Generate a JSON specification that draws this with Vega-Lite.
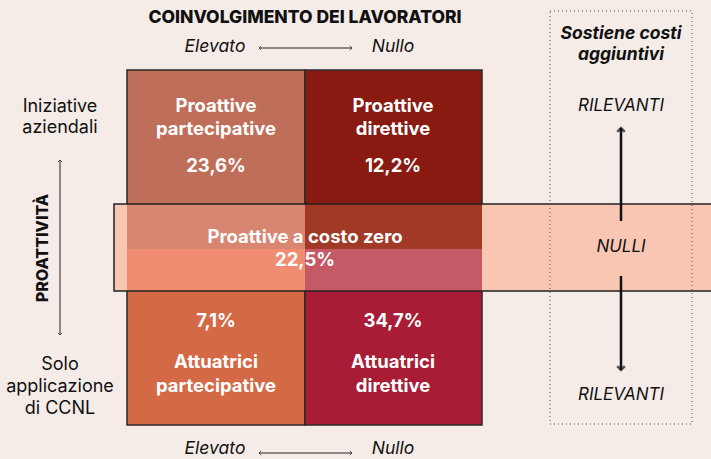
{
  "$schema": "https://vega.github.io/schema/vega-lite/v6.json",
  "width": 711,
  "height": 459,
  "autosize": {"type": "fit", "contains": "padding"},
  "padding": 0,
  "background": "#f5ece8",
  "config": {"view": {"stroke": null}, "text": {"font": "Inter"}},
  "datasets": {
    "quadranti": [
      {"x": 127, "x2": 305, "y": 70, "y2": 249, "zona": "Proattive partecipative"},
      {"x": 305, "x2": 482, "y": 70, "y2": 249, "zona": "Proattive direttive"},
      {"x": 127, "x2": 305, "y": 249, "y2": 425, "zona": "Attuatrici partecipative"},
      {"x": 305, "x2": 482, "y": 249, "y2": 425, "zona": "Attuatrici direttive"}
    ],
    "fascia": [
      {"x": 114, "x2": 127, "y": 204, "y2": 291, "zona": "Costo zero"},
      {"x": 482, "x2": 711, "y": 204, "y2": 291, "zona": "Costo zero"},
      {"x": 127, "x2": 305, "y": 204, "y2": 249, "zona": "Costo zero / Proattive partecipative"},
      {"x": 305, "x2": 482, "y": 204, "y2": 249, "zona": "Costo zero / Proattive direttive"},
      {"x": 127, "x2": 305, "y": 249, "y2": 291, "zona": "Costo zero / Attuatrici partecipative"},
      {"x": 305, "x2": 482, "y": 249, "y2": 291, "zona": "Costo zero / Attuatrici direttive"}
    ],
    "contorno": [{"x": 114, "x2": 720, "y": 204, "y2": 291}],
    "riquadro": [{"x": 550, "x2": 692, "y": 11, "y2": 424}],
    "frecce_sottili": [
      {"x": 60, "x2": 60, "y": 160, "y2": 335},
      {"x": 259, "x2": 352, "y": 48, "y2": 48},
      {"x": 259, "x2": 352, "y": 453, "y2": 453}
    ],
    "frecce_spesse": [
      {"x": 621, "x2": 621, "y": 128, "y2": 221},
      {"x": 621, "x2": 621, "y": 276, "y2": 370}
    ],
    "punte_sottili": [
      {"x": 60, "y": 160, "dir": "su"},
      {"x": 60, "y": 335, "dir": "giu"},
      {"x": 259, "y": 48, "dir": "sx"},
      {"x": 352, "y": 48, "dir": "dx"},
      {"x": 259, "y": 453, "dir": "sx"},
      {"x": 352, "y": 453, "dir": "dx"}
    ],
    "punte_spesse": [
      {"x": 621, "y": 128, "dir": "su"},
      {"x": 621, "y": 370, "dir": "giu"}
    ],
    "testi": [
      {"testo": "COINVOLGIMENTO DEI LAVORATORI", "x": 305, "y": 18, "tipo": "titolo"},
      {"testo": "Elevato", "x": 215, "y": 47, "tipo": "asse"},
      {"testo": "Nullo", "x": 393, "y": 47, "tipo": "asse"},
      {"testo": "Elevato", "x": 215, "y": 449, "tipo": "asse"},
      {"testo": "Nullo", "x": 393, "y": 449, "tipo": "asse"},
      {"testo": "Iniziative", "x": 60, "y": 107, "tipo": "lato"},
      {"testo": "aziendali", "x": 60, "y": 128, "tipo": "lato"},
      {"testo": "Solo", "x": 60, "y": 365, "tipo": "lato"},
      {"testo": "applicazione", "x": 60, "y": 387, "tipo": "lato"},
      {"testo": "di CCNL", "x": 60, "y": 409, "tipo": "lato"},
      {"testo": "Proattive", "x": 216, "y": 106, "tipo": "cella"},
      {"testo": "partecipative", "x": 216, "y": 129, "tipo": "cella"},
      {"testo": "Proattive", "x": 393, "y": 106, "tipo": "cella"},
      {"testo": "direttive", "x": 393, "y": 129, "tipo": "cella"},
      {"testo": "Proattive a costo zero", "x": 305, "y": 237, "tipo": "cella"},
      {"testo": "Attuatrici", "x": 216, "y": 362, "tipo": "cella"},
      {"testo": "partecipative", "x": 216, "y": 386, "tipo": "cella"},
      {"testo": "Attuatrici", "x": 393, "y": 362, "tipo": "cella"},
      {"testo": "direttive", "x": 393, "y": 386, "tipo": "cella"},
      {"testo": "23,6%", "x": 216, "y": 166, "tipo": "perc"},
      {"testo": "12,2%", "x": 393, "y": 166, "tipo": "perc"},
      {"testo": "22,5%", "x": 305, "y": 260, "tipo": "perc"},
      {"testo": "7,1%", "x": 216, "y": 321, "tipo": "perc"},
      {"testo": "34,7%", "x": 393, "y": 321, "tipo": "perc"},
      {"testo": "Sostiene costi", "x": 621, "y": 34, "tipo": "costi"},
      {"testo": "aggiuntivi", "x": 621, "y": 55, "tipo": "costi"},
      {"testo": "RILEVANTI", "x": 621, "y": 106, "tipo": "livello"},
      {"testo": "NULLI", "x": 621, "y": 247, "tipo": "livello"},
      {"testo": "RILEVANTI", "x": 621, "y": 395, "tipo": "livello"},
      {"testo": "PROATTIVITÀ", "x": 43, "y": 248, "tipo": "verticale"}
    ]
  },
  "layer": [
    {
      "data": {"name": "quadranti"},
      "mark": {"type": "rect", "stroke": "#2a2a2a", "strokeWidth": 1.5},
      "encoding": {
        "x": {"field": "x", "type": "quantitative", "scale": {"domain": [0, 711], "nice": false, "zero": false}, "axis": null},
        "x2": {"field": "x2"},
        "y": {"field": "y", "type": "quantitative", "scale": {"domain": [0, 459], "nice": false, "zero": false, "reverse": true}, "axis": null},
        "y2": {"field": "y2"},
        "color": {
          "field": "zona", "type": "nominal", "legend": null,
          "scale": {
            "domain": ["Proattive partecipative", "Proattive direttive", "Attuatrici partecipative", "Attuatrici direttive",
                       "Costo zero", "Costo zero / Proattive partecipative", "Costo zero / Proattive direttive",
                       "Costo zero / Attuatrici partecipative", "Costo zero / Attuatrici direttive"],
            "range": ["#bf6f59", "#881a12", "#d36945", "#a81c35", "#f9c6b3", "#d88572", "#a03925", "#f08c70", "#c45a66"]
          }
        }
      }
    },
    {
      "data": {"name": "fascia"},
      "mark": {"type": "rect", "strokeWidth": 0},
      "encoding": {
        "x": {"field": "x", "type": "quantitative"},
        "x2": {"field": "x2"},
        "y": {"field": "y", "type": "quantitative"},
        "y2": {"field": "y2"},
        "color": {"field": "zona", "type": "nominal", "legend": null}
      }
    },
    {
      "data": {"name": "contorno"},
      "mark": {"type": "rect", "fill": null, "fillOpacity": 0, "stroke": "#222222", "strokeWidth": 1.5, "clip": true},
      "encoding": {
        "x": {"field": "x", "type": "quantitative"},
        "x2": {"field": "x2"},
        "y": {"field": "y", "type": "quantitative"},
        "y2": {"field": "y2"}
      }
    },
    {
      "data": {"name": "riquadro"},
      "mark": {"type": "rect", "fill": null, "fillOpacity": 0, "stroke": "#555555", "strokeWidth": 1, "strokeDash": [1, 3]},
      "encoding": {
        "x": {"field": "x", "type": "quantitative"},
        "x2": {"field": "x2"},
        "y": {"field": "y", "type": "quantitative"},
        "y2": {"field": "y2"}
      }
    },
    {
      "data": {"name": "frecce_sottili"},
      "mark": {"type": "rule", "stroke": "#222222", "strokeWidth": 1},
      "encoding": {
        "x": {"field": "x", "type": "quantitative"},
        "x2": {"field": "x2"},
        "y": {"field": "y", "type": "quantitative"},
        "y2": {"field": "y2"}
      }
    },
    {
      "data": {"name": "frecce_spesse"},
      "mark": {"type": "rule", "stroke": "#111111", "strokeWidth": 2.5},
      "encoding": {
        "x": {"field": "x", "type": "quantitative"},
        "x2": {"field": "x2"},
        "y": {"field": "y", "type": "quantitative"},
        "y2": {"field": "y2"}
      }
    },
    {
      "data": {"name": "punte_sottili"},
      "mark": {"type": "point", "filled": false, "stroke": "#222222", "strokeWidth": 1, "size": 30},
      "encoding": {
        "x": {"field": "x", "type": "quantitative"},
        "y": {"field": "y", "type": "quantitative"},
        "shape": {
          "field": "dir", "type": "nominal", "legend": null,
          "scale": {
            "domain": ["su", "giu", "sx", "dx"],
            "range": ["M -0.8 0.8 L 0 0 L 0.8 0.8", "M -0.8 -0.8 L 0 0 L 0.8 -0.8", "M 0.8 -0.8 L 0 0 L 0.8 0.8", "M -0.8 -0.8 L 0 0 L -0.8 0.8"]
          }
        }
      }
    },
    {
      "data": {"name": "punte_spesse"},
      "mark": {"type": "point", "filled": false, "stroke": "#111111", "strokeWidth": 2.5, "size": 90},
      "encoding": {
        "x": {"field": "x", "type": "quantitative"},
        "y": {"field": "y", "type": "quantitative"},
        "shape": {"field": "dir", "type": "nominal", "legend": null}
      }
    },
    {
      "data": {"name": "testi"},
      "transform": [{"filter": "datum.tipo === 'titolo'"}],
      "mark": {"type": "text", "fontWeight": 800, "fontSize": 17.5, "color": "#111111", "baseline": "middle"},
      "encoding": {"x": {"field": "x", "type": "quantitative"}, "y": {"field": "y", "type": "quantitative"}, "text": {"field": "testo"}}
    },
    {
      "data": {"name": "testi"},
      "transform": [{"filter": "datum.tipo === 'asse'"}],
      "mark": {"type": "text", "fontStyle": "italic", "fontSize": 17.5, "color": "#111111", "baseline": "middle"},
      "encoding": {"x": {"field": "x", "type": "quantitative"}, "y": {"field": "y", "type": "quantitative"}, "text": {"field": "testo"}}
    },
    {
      "data": {"name": "testi"},
      "transform": [{"filter": "datum.tipo === 'lato'"}],
      "mark": {"type": "text", "fontSize": 18, "color": "#111111", "baseline": "middle"},
      "encoding": {"x": {"field": "x", "type": "quantitative"}, "y": {"field": "y", "type": "quantitative"}, "text": {"field": "testo"}}
    },
    {
      "data": {"name": "testi"},
      "transform": [{"filter": "datum.tipo === 'cella'"}],
      "mark": {"type": "text", "fontWeight": 700, "fontSize": 18.5, "color": "#ffffff", "baseline": "middle"},
      "encoding": {"x": {"field": "x", "type": "quantitative"}, "y": {"field": "y", "type": "quantitative"}, "text": {"field": "testo"}}
    },
    {
      "data": {"name": "testi"},
      "transform": [{"filter": "datum.tipo === 'perc'"}],
      "mark": {"type": "text", "fontWeight": 700, "fontSize": 18.5, "color": "#ffffff", "baseline": "middle"},
      "encoding": {"x": {"field": "x", "type": "quantitative"}, "y": {"field": "y", "type": "quantitative"}, "text": {"field": "testo"}}
    },
    {
      "data": {"name": "testi"},
      "transform": [{"filter": "datum.tipo === 'costi'"}],
      "mark": {"type": "text", "fontWeight": 700, "fontStyle": "italic", "fontSize": 17.5, "color": "#111111", "baseline": "middle"},
      "encoding": {"x": {"field": "x", "type": "quantitative"}, "y": {"field": "y", "type": "quantitative"}, "text": {"field": "testo"}}
    },
    {
      "data": {"name": "testi"},
      "transform": [{"filter": "datum.tipo === 'livello'"}],
      "mark": {"type": "text", "fontStyle": "italic", "fontSize": 17, "color": "#111111", "baseline": "middle"},
      "encoding": {"x": {"field": "x", "type": "quantitative"}, "y": {"field": "y", "type": "quantitative"}, "text": {"field": "testo"}}
    },
    {
      "data": {"name": "testi"},
      "transform": [{"filter": "datum.tipo === 'verticale'"}],
      "mark": {"type": "text", "fontWeight": 800, "fontSize": 16, "color": "#111111", "baseline": "middle", "angle": 270},
      "encoding": {"x": {"field": "x", "type": "quantitative"}, "y": {"field": "y", "type": "quantitative"}, "text": {"field": "testo"}}
    }
  ]
}
